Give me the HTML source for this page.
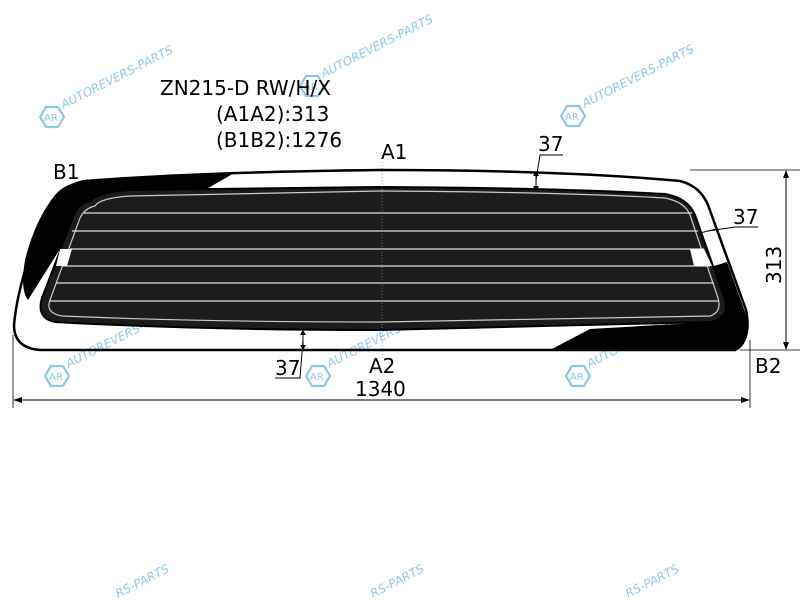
<!DOCTYPE html>
<html><head><meta charset="utf-8"><style>
html,body{margin:0;padding:0;background:#fff;overflow:hidden;width:800px;height:600px;}
svg{display:block;}
text{font-family:"DejaVu Sans","Liberation Sans",sans-serif;}
</style></head><body>
<svg width="800" height="600" viewBox="0 0 800 600" xmlns="http://www.w3.org/2000/svg">
<defs>
<g id="wm">
  <polygon points="-6,-10 6,-10 12,0 6,10 -6,10 -12,0" fill="none" stroke="#8cc8ec" stroke-width="2.2"/>
  <text x="-8" y="4" font-size="10" fill="#8cc8ec" font-family="Liberation Sans,sans-serif">AR</text>
  <text x="14" y="-2" font-size="12" font-style="italic" fill="#8cc8ec" transform="rotate(-27)" font-family="Liberation Sans,sans-serif">AUTOREVERS-PARTS</text>
</g>
</defs>

<use href="#wm" x="52" y="117"/>
<use href="#wm" x="312" y="86"/>
<use href="#wm" x="573" y="116"/>
<use href="#wm" x="57" y="376"/>
<use href="#wm" x="318" y="376"/>
<use href="#wm" x="578" y="376"/>
<g font-size="12" font-style="italic" fill="#8cc8ec" font-family="Liberation Sans,sans-serif">
  <text transform="translate(118,598) rotate(-27)">RS-PARTS</text>
  <text transform="translate(373,598) rotate(-27)">RS-PARTS</text>
  <text transform="translate(628,598) rotate(-27)">RS-PARTS</text>
</g>

<path d="M85,181 L236,172 L203,191 L100,200 Q80,205 75,225 L28,300 Q20,290 25,260 Q35,220 55,195 Q65,183 85,181 Z" fill="#000"/>
<path d="M550,350 L590,329 L712,322 L714,266 L727,262 L745,312 Q752,340 738,350 Z" fill="#000"/>

<path d="M85,181 Q200,172 380,170 Q560,170 680,181 Q700,186 708,205 L746,310 Q752,340 735,350 L40,350 Q14,348 14,325 Q18,280 45,215 Q60,185 85,181 Z" fill="none" stroke="#000" stroke-width="2.5"/>

<path d="M90,201 Q100,192 130,190 L380,187 Q560,188 665,194 Q688,198 695,215 L725,300 Q730,318 710,322 L380,330 Q200,330 55,322 Q36,318 42,298 L75,212 Q80,203 90,201 Z" fill="#1c1c1c" stroke="#000" stroke-width="2"/>
<path d="M95,206 Q100,198 130,196 L380,191 Q560,192 665,198 Q685,202 690,215 L718,298 Q722,312 710,316 L380,322 Q200,322 62,316 Q45,313 50,300 L80,218 Q85,208 95,206 Z" fill="none" stroke="#ccc" stroke-width="1.2"/>
<g stroke="#ddd" stroke-width="1.3">
  <line x1="84" y1="213" x2="692" y2="213"/>
  <line x1="72" y1="231" x2="698" y2="231"/>
  <line x1="70" y1="249" x2="704" y2="249"/>
  <line x1="62" y1="266" x2="710" y2="266"/>
  <line x1="56" y1="283" x2="714" y2="283"/>
  <line x1="50" y1="301" x2="718" y2="301"/>
</g>
<path d="M60,249 L72,249 L67,266 L56,266 Z" fill="#fff"/>
<path d="M690,249 L704,249 L712,266 L694,266 Z" fill="#fff"/>

<line x1="382" y1="162" x2="382" y2="360" stroke="#888" stroke-width="0.8" stroke-dasharray="1,2"/>

<line x1="536" y1="172" x2="536" y2="190" stroke="#000" stroke-width="1"/>
<path d="M533,176 L536,171 L539,176 Z M533,186 L536,191 L539,186 Z" fill="#000"/>
<polyline points="536,180 540,155 563,155" fill="none" stroke="#000" stroke-width="1"/>
<text x="538" y="151" font-size="20">37</text>
<line x1="700" y1="233" x2="716" y2="229" stroke="#000" stroke-width="1"/>
<polyline points="708,231 735,227 758,227" fill="none" stroke="#000" stroke-width="1"/>
<text x="733" y="224" font-size="20">37</text>
<line x1="303" y1="330" x2="303" y2="350" stroke="#000" stroke-width="1"/>
<path d="M300,335 L303,330 L306,335 Z M300,345 L303,350 L306,345 Z" fill="#000"/>
<polyline points="303,340 300,378 275,378" fill="none" stroke="#000" stroke-width="1"/>
<text x="275" y="375" font-size="20">37</text>

<line x1="690" y1="170" x2="800" y2="170" stroke="#000" stroke-width="0.8"/>
<line x1="740" y1="350" x2="800" y2="350" stroke="#000" stroke-width="0.8"/>
<line x1="786" y1="172" x2="786" y2="348" stroke="#000" stroke-width="1"/>
<path d="M783,178 L786,170 L789,178 Z M783,342 L786,350 L789,342 Z" fill="#000"/>
<text x="0" y="0" font-size="20" transform="translate(781,284) rotate(-90)">313</text>

<line x1="13" y1="335" x2="13" y2="408" stroke="#000" stroke-width="0.8"/>
<line x1="750" y1="340" x2="750" y2="408" stroke="#000" stroke-width="0.8"/>
<line x1="15" y1="400" x2="748" y2="400" stroke="#000" stroke-width="1"/>
<path d="M22,397 L13,400 L22,403 Z M741,397 L750,400 L741,403 Z" fill="#000"/>
<text x="355" y="396" font-size="20">1340</text>

<text x="53" y="179" font-size="20">B1</text>
<text x="755" y="373" font-size="20">B2</text>
<text x="381" y="159" font-size="20">A1</text>
<text x="369" y="373" font-size="20">A2</text>
<text x="160" y="95" font-size="20">ZN215-D RW/H/X</text>
<text x="216" y="121" font-size="20">(A1A2):313</text>
<text x="216" y="147" font-size="20">(B1B2):1276</text>
</svg>
</body></html>
